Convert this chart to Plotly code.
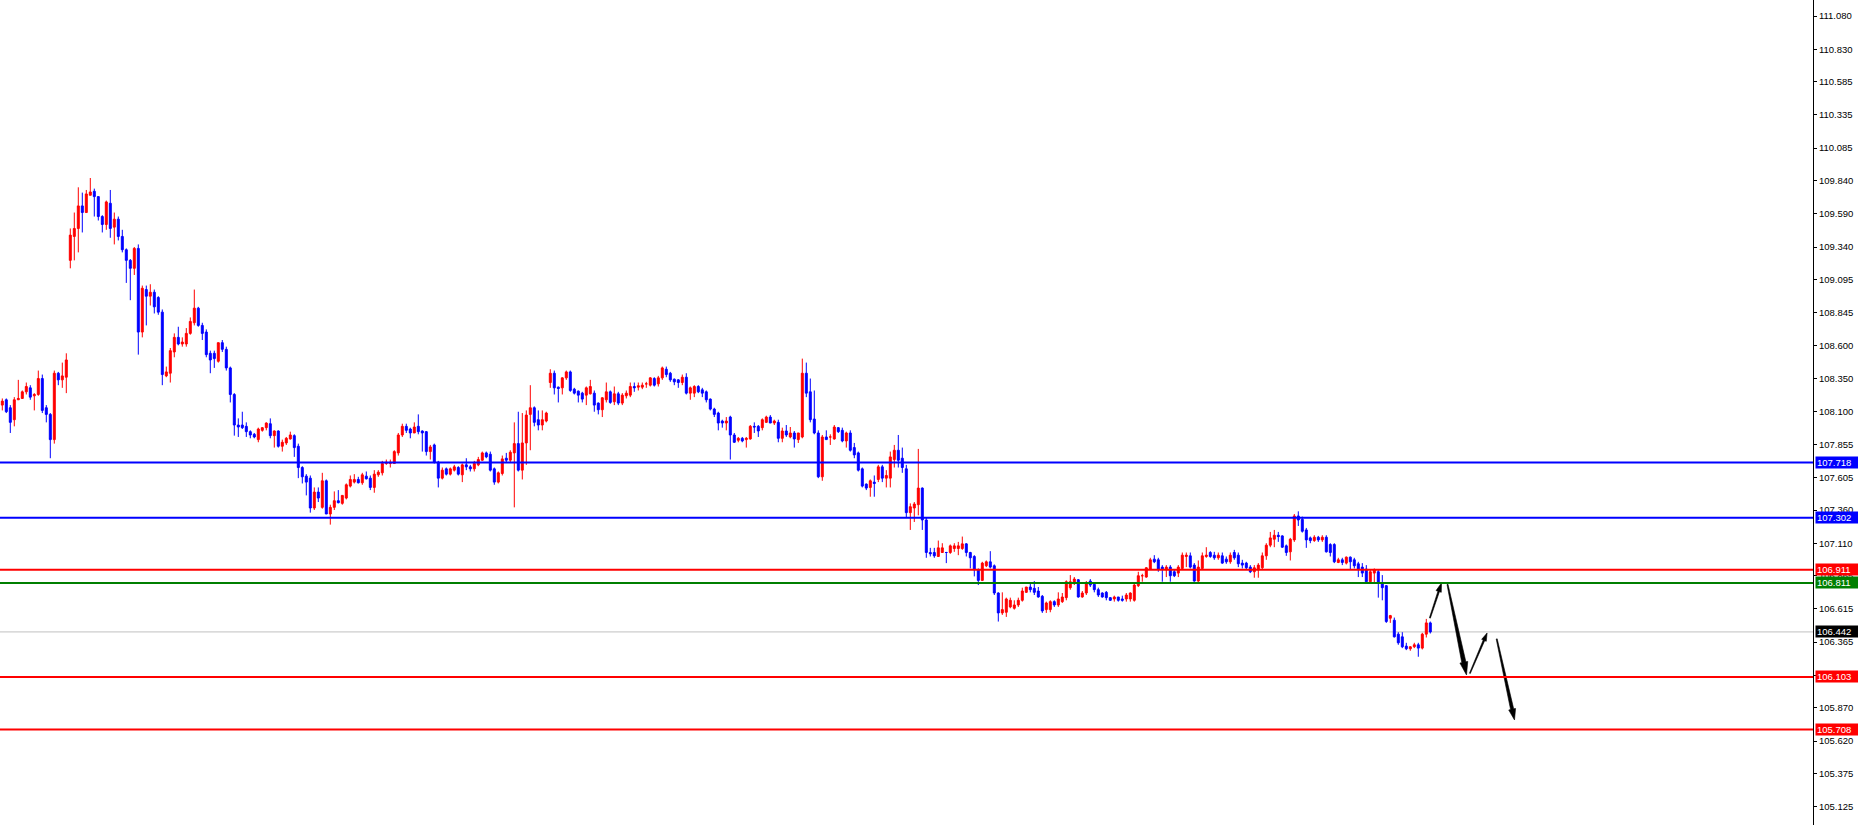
import math
import plotly.graph_objects as go

# ---------------- data ----------------
opens = [
108.15,108.19,108.13,108.04,108.19,108.20,108.25,108.28,108.22,108.23,
108.35,108.13,108.08,107.89,108.39,108.34,108.36,109.24,109.42,109.48,
109.65,109.60,109.73,109.76,109.72,109.57,109.51,109.67,109.49,109.55,
109.42,109.32,109.24,109.18,109.33,108.70,109.02,108.97,109.00,108.96,
108.85,108.37,108.39,108.55,108.66,108.61,108.61,108.69,108.77,108.88,
108.75,108.70,108.54,108.54,108.48,108.62,108.57,108.43,108.23,108.00,
108.00,107.99,107.95,107.93,107.89,107.96,107.98,108.01,107.92,107.955,
107.84,107.865,107.895,107.92,107.84,107.68,107.615,107.60,107.375,107.495,
107.38,107.58,107.33,107.38,107.43,107.41,107.45,107.54,107.57,107.59,
107.565,107.615,107.60,107.53,107.625,107.64,107.71,107.71,107.71,107.79,
107.925,107.99,107.97,107.94,107.99,107.955,107.95,107.80,107.85,107.72,
107.60,107.67,107.63,107.66,107.68,107.625,107.70,107.685,107.67,107.70,
107.735,107.79,107.78,107.67,107.57,107.635,107.75,107.735,107.79,107.86,
107.66,107.865,108.08,108.13,108.04,108.00,108.03,108.32,108.39,108.285,
108.28,108.355,108.40,108.27,108.255,108.24,108.225,108.235,108.24,108.165,
108.115,108.19,108.25,108.175,108.235,108.165,108.22,108.225,108.29,108.285,
108.285,108.31,108.30,108.35,108.31,108.355,108.42,108.39,108.345,108.34,
108.32,108.36,108.24,108.24,108.29,108.265,108.25,108.195,108.12,108.09,
108.03,108.015,108.06,107.925,107.885,107.90,107.89,107.895,107.99,107.99,
107.98,108.02,108.06,108.015,108.02,107.90,107.955,107.91,107.94,107.89,
107.91,108.39,108.25,108.045,107.94,107.61,107.91,107.91,107.895,107.98,
107.96,107.88,107.94,107.83,107.79,107.67,107.555,107.53,107.57,107.59,
107.685,107.60,107.60,107.74,107.81,107.75,107.67,107.34,107.375,107.40,
107.525,107.285,107.04,107.04,107.01,107.04,107.04,107.04,107.07,107.07,
107.07,107.105,107.04,107.01,106.91,106.83,106.94,106.97,106.94,106.735,
106.585,106.59,106.63,106.62,106.645,106.68,106.74,106.78,106.77,106.75,
106.71,106.61,106.61,106.67,106.645,106.67,106.70,106.775,106.81,106.835,
106.705,106.735,106.825,106.80,106.76,106.735,106.74,106.70,106.69,106.705,
106.69,106.69,106.69,106.68,106.79,106.865,106.855,106.915,106.99,106.985,
106.93,106.91,106.93,106.895,106.885,106.92,107.01,107.015,106.945,106.825,
106.92,107.01,107.04,107.02,107.00,107.015,106.99,106.97,107.04,107.02,
106.96,106.96,106.93,106.895,106.91,106.925,107.015,107.095,107.14,107.17,
107.165,107.09,107.045,107.135,107.315,107.29,107.21,107.15,107.13,107.155,
107.135,107.155,107.10,107.10,106.965,106.985,106.96,107.005,106.985,106.955,
106.93,106.915,106.82,106.885,106.895,106.81,106.79,106.545,106.53,106.425,
106.405,106.335,106.315,106.33,106.345,106.32,106.425,106.51]

highs = [
108.20,108.20,108.15,108.21,108.34,108.26,108.32,108.30,108.24,108.41,
108.38,108.15,108.09,108.41,108.40,108.47,108.54,109.48,109.60,109.79,
109.75,109.77,109.86,109.78,109.72,109.58,109.69,109.77,109.60,109.57,
109.47,109.33,109.25,109.34,109.36,109.05,109.05,109.06,109.02,108.97,
108.87,108.44,108.58,108.69,108.74,108.66,108.73,108.81,109.02,108.89,
108.77,108.72,108.56,108.56,108.62,108.64,108.59,108.44,108.24,108.05,
108.10,108.02,107.96,107.94,107.98,107.985,108.02,108.05,107.96,107.96,
107.89,107.91,107.95,107.93,107.86,107.69,107.63,107.62,107.53,107.53,
107.64,107.59,107.40,107.50,107.51,107.47,107.56,107.62,107.63,107.61,
107.64,107.65,107.62,107.66,107.66,107.73,107.74,107.74,107.81,107.94,
108.01,108.01,107.98,108.02,108.08,107.96,107.955,107.85,107.86,107.73,
107.68,107.68,107.68,107.70,107.69,107.71,107.75,107.70,107.73,107.76,
107.80,107.80,107.80,107.68,107.65,107.77,107.79,107.81,108.02,108.10,
108.09,108.11,108.30,108.14,108.11,108.11,108.10,108.42,108.41,108.29,
108.36,108.41,108.41,108.28,108.26,108.25,108.29,108.34,108.26,108.17,
108.21,108.32,108.26,108.29,108.25,108.24,108.26,108.32,108.32,108.32,
108.32,108.325,108.36,108.36,108.37,108.44,108.44,108.40,108.35,108.345,
108.38,108.39,108.29,108.30,108.30,108.28,108.26,108.20,108.13,108.10,
108.04,108.06,108.07,107.94,107.91,107.91,107.91,108.00,108.02,108.00,
108.05,108.07,108.075,108.04,108.04,107.98,108.00,107.985,107.955,107.94,
108.50,108.47,108.35,108.26,107.96,107.925,107.96,107.93,108.00,107.985,
107.98,107.95,107.96,107.865,107.80,107.68,107.56,107.59,107.62,107.70,
107.70,107.66,107.80,107.85,107.925,107.83,107.70,107.41,107.42,107.82,
107.53,107.30,107.075,107.075,107.13,107.11,107.045,107.10,107.11,107.12,
107.16,107.11,107.045,107.02,106.92,106.97,106.98,107.05,106.95,106.74,
106.74,106.70,106.70,106.68,106.70,106.775,106.78,106.81,106.825,106.78,
106.72,106.67,106.68,106.68,106.74,106.735,106.83,106.87,106.855,106.84,
106.75,106.825,106.84,106.81,106.775,106.74,106.75,106.705,106.715,106.705,
106.715,106.735,106.74,106.81,106.895,106.88,106.93,107.00,107.02,107.00,
106.945,106.945,106.945,106.91,106.945,107.04,107.04,107.04,106.96,106.98,
107.04,107.08,107.05,107.045,107.04,107.04,107.01,107.04,107.06,107.04,
106.985,106.97,106.945,106.945,106.96,107.04,107.11,107.195,107.21,107.195,
107.17,107.10,107.15,107.33,107.35,107.31,107.225,107.16,107.17,107.165,
107.17,107.17,107.11,107.11,107.00,107.00,107.01,107.01,107.00,106.97,
106.96,106.945,106.915,106.92,106.91,106.87,106.795,106.57,106.55,106.44,
106.44,106.36,106.335,106.36,106.36,106.435,106.54,106.52]

lows = [
108.11,108.09,107.94,107.99,108.19,108.20,108.23,108.19,108.11,108.22,
108.09,108.02,107.75,107.86,108.30,108.28,108.24,109.18,109.24,109.30,
109.45,109.60,109.73,109.57,109.54,109.45,109.47,109.41,109.36,109.39,
109.30,109.07,108.94,109.13,108.53,108.66,108.75,108.90,108.84,108.83,
108.30,108.36,108.32,108.51,108.60,108.59,108.59,108.68,108.75,108.74,
108.64,108.51,108.39,108.43,108.47,108.55,108.41,108.17,107.92,107.91,
107.97,107.91,107.90,107.90,107.87,107.95,107.96,107.90,107.83,107.83,
107.80,107.85,107.89,107.76,107.60,107.56,107.47,107.34,107.36,107.42,
107.37,107.33,107.25,107.36,107.41,107.40,107.44,107.53,107.56,107.56,
107.55,107.59,107.51,107.49,107.61,107.62,107.70,107.68,107.71,107.77,
107.91,107.94,107.90,107.94,107.93,107.80,107.77,107.74,107.71,107.53,
107.59,107.62,107.62,107.65,107.62,107.57,107.66,107.65,107.65,107.69,
107.73,107.75,107.65,107.55,107.56,107.62,107.72,107.72,107.38,107.65,
107.59,107.70,107.81,107.99,107.96,107.96,108.02,108.28,108.23,108.17,
108.23,108.34,108.25,108.23,108.17,108.17,108.15,108.23,108.10,108.08,
108.06,108.17,108.16,108.15,108.15,108.15,108.20,108.21,108.25,108.26,
108.27,108.28,108.29,108.29,108.29,108.34,108.36,108.325,108.30,108.28,
108.30,108.23,108.19,108.21,108.24,108.21,108.17,108.11,108.06,107.96,
107.98,107.96,107.74,107.865,107.87,107.87,107.83,107.89,107.94,107.91,
107.96,108.015,108.015,108.00,107.87,107.87,107.91,107.90,107.83,107.865,
107.90,108.21,108.02,107.93,107.60,107.58,107.89,107.85,107.89,107.94,
107.87,107.83,107.80,107.75,107.65,107.53,107.51,107.46,107.46,107.57,
107.57,107.53,107.53,107.68,107.68,107.64,107.30,107.21,107.27,107.32,
107.21,107.00,107.01,107.00,107.01,107.04,106.96,107.03,107.045,107.02,
107.06,107.01,106.92,106.86,106.795,106.825,106.93,106.92,106.72,106.52,
106.57,106.555,106.62,106.61,106.63,106.67,106.735,106.74,106.72,106.70,
106.585,106.585,106.59,106.63,106.63,106.66,106.68,106.76,106.795,106.70,
106.70,106.72,106.78,106.74,106.705,106.70,106.68,106.675,106.67,106.67,
106.67,106.67,106.67,106.67,106.78,106.82,106.85,106.91,106.96,106.895,
106.82,106.855,106.82,106.855,106.855,106.91,106.93,106.92,106.82,106.81,
106.91,107.00,107.00,106.985,106.985,106.955,106.955,106.955,106.985,106.93,
106.92,106.91,106.885,106.85,106.85,106.91,106.985,107.08,107.08,107.12,
107.075,107.015,106.98,107.12,107.24,107.19,107.075,107.11,107.12,107.12,
107.12,107.04,107.01,106.96,106.96,106.945,106.95,106.91,106.92,106.855,
106.855,106.81,106.81,106.81,106.70,106.68,106.51,106.51,106.40,106.345,
106.32,106.305,106.30,106.32,106.255,106.31,106.40,106.43]

closes = [
108.18,108.10,108.02,108.19,108.20,108.25,108.29,108.21,108.23,108.35,
108.11,108.08,107.89,108.39,108.34,108.37,108.49,109.43,109.48,109.65,
109.60,109.74,109.755,109.72,109.57,109.51,109.68,109.48,109.55,109.42,
109.32,109.24,109.18,109.33,108.70,109.03,108.97,109.00,108.89,108.85,
108.38,108.40,108.56,108.66,108.61,108.625,108.69,108.78,108.88,108.75,
108.69,108.53,108.49,108.50,108.62,108.57,108.43,108.23,108.00,107.985,
107.98,107.95,107.925,107.91,107.97,107.98,108.015,107.92,107.955,107.84,
107.87,107.90,107.925,107.83,107.68,107.61,107.57,107.375,107.495,107.45,
107.58,107.33,107.38,107.43,107.415,107.47,107.55,107.59,107.59,107.565,
107.625,107.595,107.53,107.63,107.645,107.71,107.72,107.72,107.80,107.925,
107.99,107.96,107.94,107.985,107.95,107.94,107.80,107.835,107.72,107.60,
107.66,107.63,107.67,107.685,107.63,107.70,107.685,107.67,107.71,107.74,
107.79,107.76,107.66,107.57,107.64,107.745,107.735,107.795,107.86,107.66,
107.865,108.075,108.13,108.02,108.00,108.04,108.09,108.39,108.28,108.275,
108.355,108.40,108.26,108.24,108.225,108.195,108.28,108.29,108.15,108.115,
108.205,108.25,108.17,108.235,108.165,108.225,108.24,108.29,108.28,108.295,
108.30,108.31,108.355,108.30,108.355,108.43,108.38,108.34,108.325,108.32,
108.36,108.24,108.28,108.29,108.25,108.24,108.19,108.12,108.08,108.015,
108.015,108.03,107.925,107.87,107.90,107.88,107.90,107.99,107.985,107.955,
108.04,108.06,108.015,108.03,107.90,107.955,107.925,107.94,107.895,107.94,
108.39,108.24,108.04,107.94,107.61,107.91,107.89,107.91,107.985,107.95,
107.88,107.94,107.81,107.775,107.66,107.54,107.525,107.58,107.56,107.685,
107.60,107.62,107.76,107.81,107.735,107.68,107.34,107.385,107.405,107.525,
107.285,107.04,107.03,107.015,107.075,107.075,107.04,107.09,107.09,107.09,
107.105,107.04,107.00,106.91,106.83,106.96,106.97,106.93,106.735,106.585,
106.61,106.69,106.68,106.645,106.68,106.75,106.78,106.76,106.74,106.705,
106.60,106.66,106.67,106.645,106.69,106.705,106.82,106.82,106.84,106.705,
106.735,106.81,106.795,106.76,106.72,106.705,106.70,106.68,106.705,106.68,
106.68,106.72,106.735,106.795,106.865,106.865,106.925,106.985,106.97,106.915,
106.915,106.93,106.865,106.865,106.93,107.02,107.02,106.93,106.825,106.93,
107.015,107.02,107.01,107.00,107.02,106.96,106.97,107.02,107.00,106.955,
106.945,106.925,106.895,106.925,106.945,107.015,107.095,107.15,107.17,107.16,
107.08,107.04,107.14,107.315,107.285,107.20,107.135,107.13,107.155,107.135,
107.155,107.045,107.04,106.97,106.985,106.965,107.005,106.97,106.94,106.915,
106.885,106.82,106.895,106.91,106.81,106.775,106.52,106.565,106.405,106.36,
106.33,106.315,106.33,106.345,106.32,106.425,106.51,106.442]

tick_values = [111.080, 110.830, 110.585, 110.335, 110.085, 109.840, 109.590,
               109.340, 109.095, 108.845, 108.600, 108.350, 108.100, 107.855,
               107.605, 107.360, 107.110, 106.865, 106.615, 106.365, 106.115,
               105.870, 105.620, 105.375, 105.125]

level_values = [107.718, 107.302, 106.911, 106.811, 106.103, 105.708]
level_kinds = ["blue", "blue", "red", "green", "red", "red"]
bid_price = 106.442

# hand-drawn arrows: start / end points (bar index, price)
arrow_start_x = [356.9, 361.3, 366.9, 373.6]
arrow_start_y = [106.547, 106.800, 106.130, 106.389]
arrow_end_x = [359.8, 366.05, 371.2, 378.05]
arrow_end_y = [106.811, 106.118, 106.434, 105.779]

# ---------------- styles ----------------
W, H = 1858, 825
MR = 45
PLOT_W = W - MR
X_RANGE = [-0.575, 452.675]
Y_RANGE = [104.988, 111.2005]
COLORS = {"blue": "#0000ff", "red": "#ff0000", "green": "#007f00"}
# (tail width, neck width, head width, head length) in px
ARROW_STYLE = [(1.0, 1.6, 5.5, 9), (1.0, 4.2, 8.0, 13),
               (0.9, 1.6, 5.0, 8), (1.0, 3.2, 7.0, 11)]
FONT = "Liberation Sans, Arial, sans-serif"

n = len(closes)
xs = list(range(n))

fig = go.Figure()
fig.add_trace(go.Candlestick(
    x=xs, open=opens, high=highs, low=lows, close=closes,
    increasing=dict(line=dict(color=COLORS["red"], width=1), fillcolor=COLORS["red"]),
    decreasing=dict(line=dict(color=COLORS["blue"], width=1), fillcolor=COLORS["blue"]),
    whiskerwidth=0, hoverinfo="skip", showlegend=False,
))

# arrows as tapered polygons
sx = PLOT_W / (X_RANGE[1] - X_RANGE[0])
sy = H / (Y_RANGE[1] - Y_RANGE[0])


def to_px(x, y):
    return (x - X_RANGE[0]) * sx, (Y_RANGE[1] - y) * sy


def to_data(px, py):
    return px / sx + X_RANGE[0], Y_RANGE[1] - py / sy


for k in range(len(arrow_start_x)):
    w0, w1, hw, hl = ARROW_STYLE[k]
    p0 = to_px(arrow_start_x[k], arrow_start_y[k])
    p1 = to_px(arrow_end_x[k], arrow_end_y[k])
    dx, dy = p1[0] - p0[0], p1[1] - p0[1]
    L = math.hypot(dx, dy)
    ux, uy = dx / L, dy / L
    nx, ny = -uy, ux
    neck = (p1[0] - ux * hl, p1[1] - uy * hl)
    pts = [
        (p0[0] + nx * w0 / 2, p0[1] + ny * w0 / 2),
        (neck[0] + nx * w1 / 2, neck[1] + ny * w1 / 2),
        (neck[0] + nx * hw / 2, neck[1] + ny * hw / 2),
        p1,
        (neck[0] - nx * hw / 2, neck[1] - ny * hw / 2),
        (neck[0] - nx * w1 / 2, neck[1] - ny * w1 / 2),
        (p0[0] - nx * w0 / 2, p0[1] - ny * w0 / 2),
    ]
    pts.append(pts[0])
    dpts = [to_data(a, b) for a, b in pts]
    fig.add_trace(go.Scatter(
        x=[p[0] for p in dpts], y=[p[1] for p in dpts], mode="lines",
        fill="toself", fillcolor="#000000", line=dict(color="#000000", width=0.6),
        hoverinfo="skip", showlegend=False,
    ))

shapes = []
annotations = []
# bid line
shapes.append(dict(type="line", xref="paper", x0=0, x1=1, yref="y",
                   y0=bid_price, y1=bid_price,
                   line=dict(color="#c0c0c0", width=1), layer="below"))
annotations.append(dict(x=1, xref="paper", xanchor="left", xshift=2,
                        y=bid_price, yref="y", yanchor="middle",
                        text=f"{bid_price:.3f}", showarrow=False,
                        bgcolor="#000000", font=dict(color="white", size=9.5, family=FONT),
                        borderpad=1, width=41, height=9, align="left", valign="middle"))
for val, kind in zip(level_values, level_kinds):
    c = COLORS[kind]
    shapes.append(dict(type="line", xref="paper", x0=0, x1=1, yref="y",
                       y0=val, y1=val, line=dict(color=c, width=2), layer="above"))
    annotations.append(dict(x=1, xref="paper", xanchor="left", xshift=2,
                            y=val, yref="y", yanchor="middle",
                            text=f"{val:.3f}", showarrow=False,
                            bgcolor=c, font=dict(color="white", size=9.5, family=FONT),
                            borderpad=1, width=41, height=9, align="left", valign="middle"))

fig.update_layout(
    width=W, height=H,
    margin=dict(l=0, r=MR, t=0, b=0, pad=0),
    paper_bgcolor="white", plot_bgcolor="white",
    showlegend=False,
    shapes=shapes, annotations=annotations,
    xaxis=dict(visible=False, range=X_RANGE, rangeslider=dict(visible=False),
               fixedrange=True),
    yaxis=dict(side="right", range=Y_RANGE, showgrid=False, zeroline=False,
               showline=True, linecolor="#000000", linewidth=1, mirror=False,
               ticks="outside", ticklen=3, tickcolor="#000000", tickwidth=1,
               tickvals=tick_values, ticktext=[f"{v:.3f}" for v in tick_values],
               tickfont=dict(size=9.5, color="#000000", family=FONT),
               fixedrange=True),
    hovermode=False,
)

fig.write_html(
    "out.html",
    config={"displayModeBar": False},
    post_script="document.body.style.margin='0px';document.body.style.padding='0px';"
                "document.documentElement.style.overflow='hidden';",
)
